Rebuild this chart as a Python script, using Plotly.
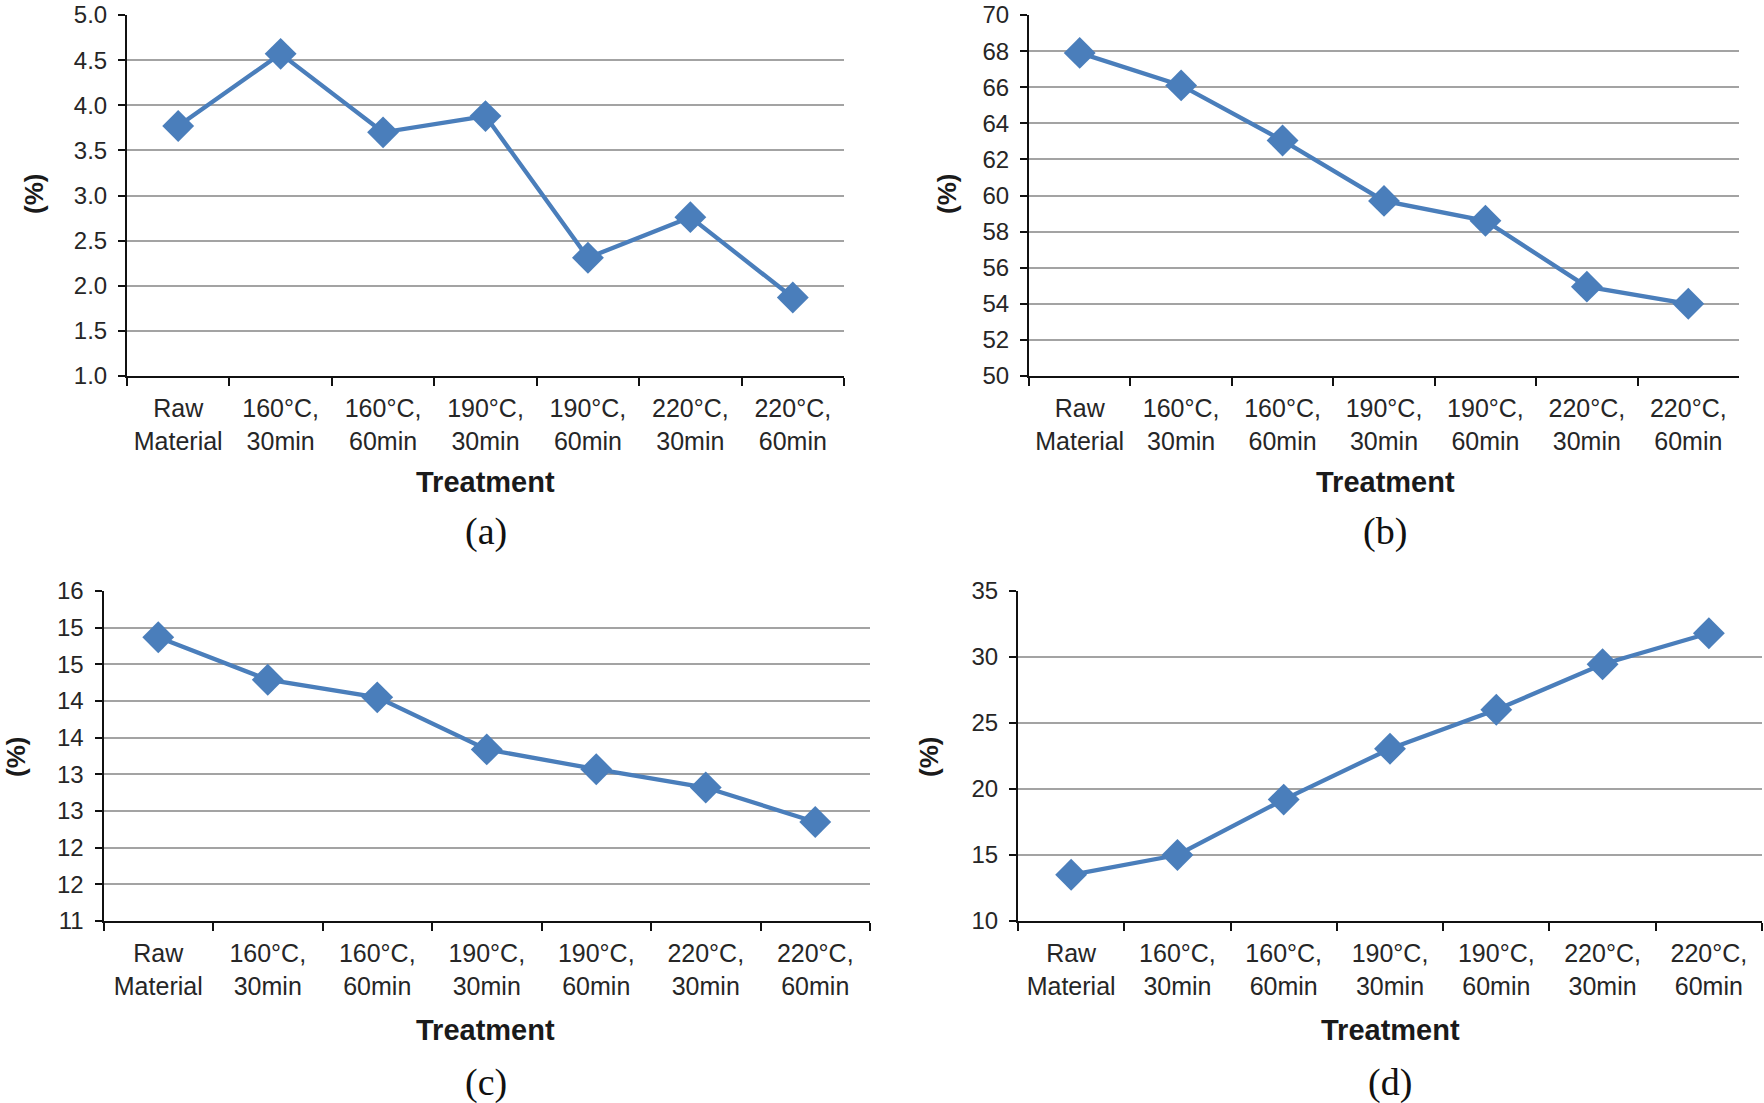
import plotly.graph_objects as go

categories = ["Raw<br>Material", "160°C,<br>30min", "160°C,<br>60min", "190°C,<br>30min",
              "190°C,<br>60min", "220°C,<br>30min", "220°C,<br>60min"]

values_a = [3.77, 4.57, 3.70, 3.88, 2.31, 2.76, 1.87]
values_b = [67.9, 66.1, 63.05, 59.7, 58.6, 54.95, 54.0]
values_c = [14.87, 14.29, 14.05, 13.34, 13.07, 12.82, 12.35]
values_d = [13.5, 15.0, 19.2, 23.05, 26.0, 29.45, 31.8]

ticks_c_vals = [11, 11.5, 12, 12.5, 13, 13.5, 14, 14.5, 15, 15.5]
ticks_c_text = ["11", "12", "12", "13", "13", "14", "14", "15", "15", "16"]

panel_labels = ["(a)", "(b)", "(c)", "(d)"]
x_title = "Treatment"
y_title = "(%)"

W, H = 1764, 1103
BLUE = "#4a7ebb"
TXT = "#262626"
SANS = "Liberation Sans, Arial, Helvetica, sans-serif"
SERIF = "Liberation Serif, Times New Roman, serif"

# panel geometry in pixels: (left, right, top, bottom)
boxes = [(127, 844, 15, 376), (1029, 1739, 15, 376),
         (103.5, 870, 591, 921), (1018, 1762, 591, 921)]

fig = go.Figure()
series = [values_a, values_b, values_c, values_d]
for i, vals in enumerate(series):
    n = "" if i == 0 else str(i + 1)
    fig.add_trace(go.Scatter(
        x=categories, y=vals, mode="lines+markers",
        line=dict(color=BLUE, width=4.3),
        marker=dict(symbol="diamond", size=24.5, color=BLUE),
        xaxis="x" + n, yaxis="y" + n, showlegend=False, cliponaxis=False))

layout = dict(width=W, height=H, margin=dict(l=0, r=0, t=0, b=0, autoexpand=False),
              paper_bgcolor="white", plot_bgcolor="white", showlegend=False)

yspecs = [
    dict(range=[1, 5], dtick=0.5, tick0=1, tickformat=".1f"),
    dict(range=[50, 70], dtick=2, tick0=50),
    dict(range=[11, 15.5], tickmode="array", tickvals=ticks_c_vals, ticktext=ticks_c_text),
    dict(range=[10, 35], dtick=5, tick0=10),
]

for i, (l, r, t, b) in enumerate(boxes):
    n = "" if i == 0 else str(i + 1)
    layout["xaxis" + n] = dict(
        domain=[l / W, r / W], anchor="y" + n, type="category", automargin=False,
        range=[-0.5, 6.5], tickson="boundaries", ticks="outside", ticklen=8,
        tickwidth=1.5, tickcolor="#111", showline=True, linecolor="#111", linewidth=2,
        showgrid=False, zeroline=False, ticklabelstandoff=9,
        tickfont=dict(family=SANS, size=25, color=TXT))
    ya = dict(
        domain=[1 - b / H, 1 - t / H], anchor="x" + n, automargin=False,
        ticks="outside", ticklen=7, tickwidth=1.5, tickcolor="#111",
        showline=True, linecolor="#111", linewidth=2,
        showgrid=True, gridcolor="#a3a3a3", gridwidth=1.8, zeroline=False,
        ticklabelstandoff=6, tickfont=dict(family=SANS, size=24, color=TXT))
    ya.update(yspecs[i])
    layout["yaxis" + n] = ya

fig.update_layout(**layout)

label_pos = [(486, 531), (1385, 531), (486, 1082), (1390, 1082)]
xtitle_pos = [(485, 482), (1385, 482), (486, 1030), (1390, 1030)]
ytitle_pos = [(34, 194), (947, 194), (16, 757), (929, 757)]

for i in range(4):
    px, py = label_pos[i]
    fig.add_annotation(text=panel_labels[i], x=px / W, y=1 - py / H, xref="paper", yref="paper",
                       xanchor="center", yanchor="middle", showarrow=False,
                       font=dict(family=SERIF, size=38, color="#111"))
    px, py = xtitle_pos[i]
    fig.add_annotation(text="<b>" + x_title + "</b>", x=px / W, y=1 - py / H, xref="paper", yref="paper",
                       xanchor="center", yanchor="middle", showarrow=False,
                       font=dict(family=SANS, size=29, color="#1a1a1a"))
    px, py = ytitle_pos[i]
    fig.add_annotation(text="<b>" + y_title + "</b>", x=px / W, y=1 - py / H, xref="paper", yref="paper",
                       xanchor="center", yanchor="middle", showarrow=False, textangle=-90,
                       font=dict(family=SANS, size=26, color="#1a1a1a"))

fig.write_html("out.html", config={"displayModeBar": False},
               post_script="document.body.style.margin='0';")
